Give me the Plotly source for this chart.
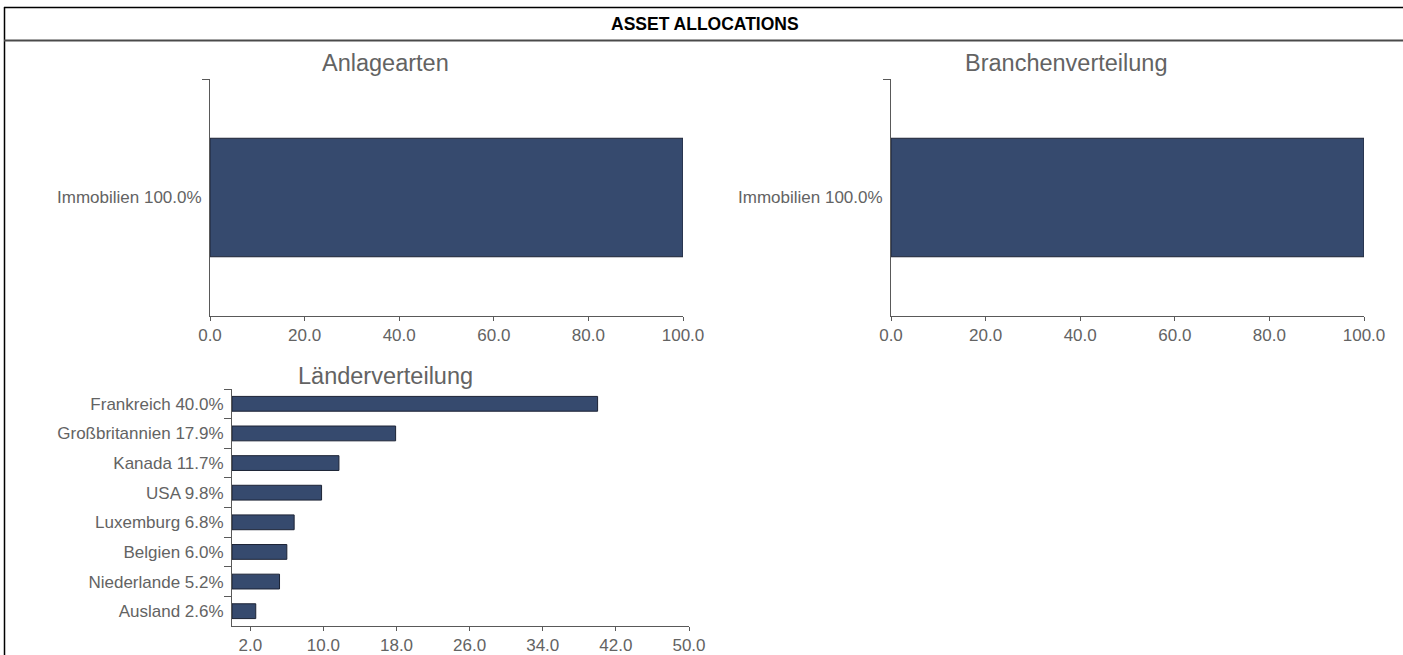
import plotly.graph_objects as go

# --- data -------------------------------------------------------------
asset_types = ["Immobilien"]
asset_values = [100.0]

sectors = ["Immobilien"]
sector_values = [100.0]

countries = ["Frankreich", "Großbritannien", "Kanada", "USA",
             "Luxemburg", "Belgien", "Niederlande", "Ausland"]
country_values = [40.0, 17.9, 11.7, 9.8, 6.8, 6.0, 5.2, 2.6]

header_text = "ASSET ALLOCATIONS"
panel_titles = ["Anlagearten", "Branchenverteilung", "Länderverteilung"]

# --- styling ----------------------------------------------------------
W, H = 1403, 655
BAR_FILL = "#364a6e"
BAR_EDGE = "#1c2335"
AXIS_GREY = "#595959"
TEXT_GREY = "#636363"
FONT = "Liberation Sans, Arial, sans-serif"


def px(x):
    return x / W


def py(y):
    return 1 - y / H


def labels(names, values):
    return [f"{n} {v:.1f}%" for n, v in zip(names, values)]


fig = go.Figure()

panels = [
    (asset_types, asset_values, "x", "y"),
    (sectors, sector_values, "x2", "y2"),
    (countries, country_values, "x3", "y3"),
]
for names, values, xa, ya in panels:
    fig.add_trace(go.Bar(
        x=values,
        y=labels(names, values),
        orientation="h",
        width=0.5,
        marker=dict(color=BAR_FILL, line=dict(color=BAR_EDGE, width=1)),
        xaxis=xa, yaxis=ya,
        hoverinfo="x+y",
        showlegend=False,
    ))

common_x = dict(
    showline=True, linecolor=AXIS_GREY, linewidth=1,
    ticks="outside", ticklen=4, tickcolor=AXIS_GREY,
    tickformat=".1f", showgrid=False, zeroline=False,
    tickfont=dict(family=FONT, size=17, color=TEXT_GREY),
    automargin=False, fixedrange=True,
)
common_y = dict(
    type="category", autorange="reversed",
    showline=True, linecolor=AXIS_GREY, linewidth=1,
    ticks="outside", ticklen=7, tickcolor=AXIS_GREY, tickson="boundaries",
    ticklabelstandoff=4,
    showgrid=False, zeroline=False,
    tickfont=dict(family=FONT, size=17, color=TEXT_GREY),
    automargin=False, fixedrange=True,
)

fig.update_layout(
    template="none",
    width=W, height=H, autosize=False,
    margin=dict(l=0, r=0, t=0, b=0, pad=0),
    paper_bgcolor="white", plot_bgcolor="white",
    bargap=0.5,
    font=dict(family=FONT, color=TEXT_GREY),
    xaxis=dict(common_x, domain=[px(210), px(683)], range=[0, 100],
               tickmode="linear", tick0=0, dtick=20, anchor="y"),
    yaxis=dict(common_y, domain=[py(316), py(79)], anchor="x"),
    xaxis2=dict(common_x, domain=[px(891), px(1364)], range=[0, 100],
                tickmode="linear", tick0=0, dtick=20, anchor="y2"),
    yaxis2=dict(common_y, domain=[py(316), py(79)], anchor="x2"),
    xaxis3=dict(common_x, domain=[px(232), px(689)], range=[0, 50],
                tickmode="linear", tick0=2, dtick=8, anchor="y3"),
    yaxis3=dict(common_y, domain=[py(626), py(389)], anchor="x3"),
)

# panel titles and table header
title_pos = [(385, 63), (1066, 63), (386, 376)]
annotations = [
    dict(text=t, x=px(x), y=py(y), xref="paper", yref="paper",
         showarrow=False, xanchor="center", yanchor="middle",
         font=dict(family=FONT, size=23.5, color=TEXT_GREY))
    for t, (x, y) in zip(panel_titles, title_pos)
]
annotations.append(dict(
    text=f"<b>{header_text}</b>", x=px(705), y=py(24),
    xref="paper", yref="paper", showarrow=False,
    xanchor="center", yanchor="middle",
    font=dict(family=FONT, size=17.5, color="black"),
))
fig.update_layout(annotations=annotations)

# table frame around the charts
shapes = [
    dict(type="line", xref="paper", yref="paper",
         x0=px(4), x1=1.0, y0=py(7.5), y1=py(7.5),
         line=dict(color="black", width=1.5)),
    dict(type="line", xref="paper", yref="paper",
         x0=px(4.5), x1=px(4.5), y0=py(7), y1=0,
         line=dict(color="black", width=1.5)),
    dict(type="line", xref="paper", yref="paper",
         x0=px(4), x1=1.0, y0=py(40.5), y1=py(40.5),
         line=dict(color="#4a4a4a", width=2)),
]
fig.update_layout(shapes=shapes)

fig.write_html(
    "out.html",
    post_script="document.body.style.margin='0';"
                "document.body.style.overflow='hidden';",
)
